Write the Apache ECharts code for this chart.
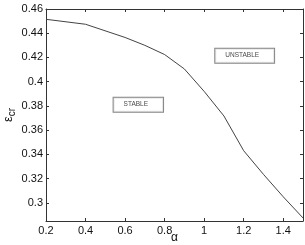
<!DOCTYPE html>
<html><head><meta charset="utf-8">
<script src="https://cdn.jsdelivr.net/npm/echarts@6/dist/echarts.min.js"></script>
<style>html,body{margin:0;padding:0;background:#fff}#c{width:305px;height:245px}</style>
</head><body><div id="c"></div>
<script>
const alpha = [0.2, 0.4, 0.6, 0.7, 0.8, 0.9, 1.0, 1.1, 1.2, 1.3, 1.4, 1.5];
const epsCr = [0.4515, 0.4474, 0.4365, 0.4300, 0.4224, 0.4105, 0.3920, 0.3717, 0.3430, 0.3235, 0.3050, 0.2875];
const xTicks = [0.2, 0.4, 0.6, 0.8, 1, 1.2, 1.4];
const yTicks = [0.3, 0.32, 0.34, 0.36, 0.38, 0.4, 0.42, 0.44, 0.46];
const annLabels = ['STABLE', 'UNSTABLE'];
const annX = [0.667, 1.205];
const annY = [0.381, 0.4215];

const FONT = 'Liberation Sans';
const axisCol = '#333';
const xRange = [0.2, 1.5], yRange = [0.285, 0.46];
function xAx(pos, labels) {
  return {
    type: 'value', position: pos, min: xRange[0], max: xRange[1],
    axisLine: {show: true, onZero: false, lineStyle: {color: axisCol, width: 1}},
    axisTick: {show: true, inside: true, length: 3, customValues: xTicks, lineStyle: {color: axisCol}},
    axisLabel: {show: labels, customValues: xTicks, fontFamily: FONT, fontSize: 11, color: '#111', margin: 4},
    splitLine: {show: false},
    name: labels ? 'α' : '', nameLocation: 'middle', nameGap: 11, nameMoveOverlap: false,
    nameTextStyle: {fontFamily: FONT, fontSize: 12, color: '#111'}
  };
}
function yAx(pos, labels) {
  return {
    type: 'value', position: pos, min: yRange[0], max: yRange[1],
    axisLine: {show: true, onZero: false, lineStyle: {color: axisCol, width: 1}},
    axisTick: {show: true, inside: true, length: 3, customValues: yTicks, lineStyle: {color: axisCol}},
    axisLabel: {show: labels, customValues: yTicks, fontFamily: FONT, fontSize: 11, color: '#111', margin: 3},
    splitLine: {show: false},
    name: labels ? '{e|ε}{s|cr}' : '', nameLocation: 'middle', nameGap: 29, nameRotate: 90, nameMoveOverlap: false,
    nameTextStyle: {
      fontFamily: FONT, color: '#111',
      rich: {
        e: {fontFamily: FONT, fontSize: 13, color: '#111'},
        s: {fontFamily: FONT, fontSize: 10, color: '#111', padding: [7, 0, 0, 0]}
      }
    }
  };
}
const chart = echarts.init(document.getElementById('c'), null, {renderer: 'canvas'});
chart.setOption({
  animation: false,
  backgroundColor: '#fff',
  grid: {left: 46, top: 9, width: 257, height: 212, containLabel: false, outerBoundsMode: 'none'},
  xAxis: [xAx('bottom', true), xAx('top', false)],
  yAxis: [yAx('left', true), yAx('right', false)],
  series: [
    {
      type: 'line', data: alpha.map((a, i) => [a, epsCr[i]]),
      showSymbol: false, symbol: 'none',
      lineStyle: {color: '#444', width: 1}
    },
    {
      type: 'scatter', symbolSize: 0,
      data: annLabels.map((n, i) => ({name: n, value: [annX[i], annY[i]]})),
      label: {
        show: true, position: 'inside', formatter: p => p.name,
        fontFamily: FONT, fontSize: 6.5, color: '#111', lineHeight: 7,
        borderColor: '#666', borderWidth: 1, backgroundColor: '#fff',
        padding: [3.5, 15, 3.5, 10]
      }
    }
  ]
});
</script></body></html>
